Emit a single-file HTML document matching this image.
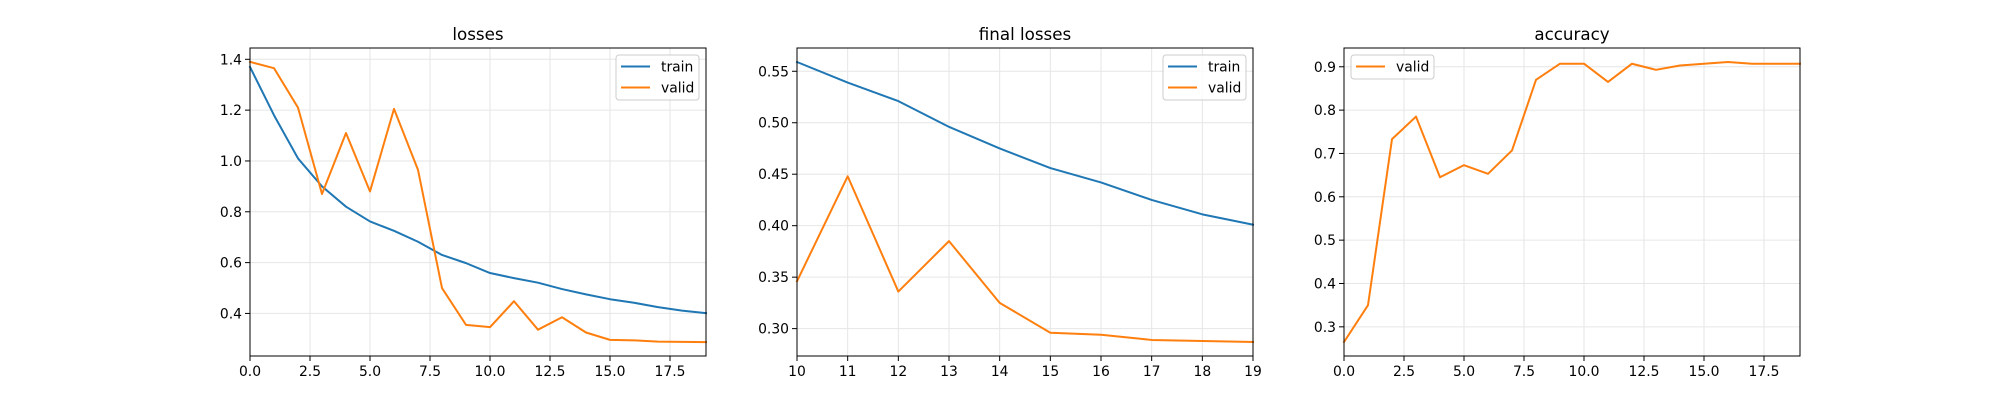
<!DOCTYPE html>
<html><head><meta charset="utf-8"><style>
html,body{margin:0;padding:0;background:#fff;}
svg{display:block;font-family:"DejaVu Sans","Liberation Sans",sans-serif;}
</style></head><body>
<svg id="fig" width="2000" height="400" viewBox="0 0 2000 400" xmlns="http://www.w3.org/2000/svg"></svg>
<script>
const epochs = [0,1,2,3,4,5,6,7,8,9,10,11,12,13,14,15,16,17,18,19];
const trainLoss = [1.37,1.18,1.01,0.90,0.82,0.762,0.725,0.682,0.63,0.598,0.559,0.539,0.521,0.496,0.475,0.456,0.442,0.425,0.411,0.401];
const validLoss = [1.39,1.365,1.21,0.87,1.11,0.88,1.205,0.965,0.50,0.355,0.346,0.448,0.336,0.385,0.325,0.296,0.294,0.289,0.288,0.287];
const validAcc = [0.265,0.35,0.733,0.785,0.645,0.673,0.653,0.707,0.87,0.907,0.907,0.865,0.907,0.893,0.903,0.907,0.911,0.907,0.907,0.907];
const ticks1X = [0,2.5,5,7.5,10,12.5,15,17.5];
const ticks1Y = [0.4,0.6,0.8,1.0,1.2,1.4];
const ticks2X = [10,11,12,13,14,15,16,17,18,19];
const ticks2Y = [0.30,0.35,0.40,0.45,0.50,0.55];
const ticks3Y = [0.3,0.4,0.5,0.6,0.7,0.8,0.9];
const finalStart = 10;

const NS="http://www.w3.org/2000/svg";
const svg=document.getElementById('fig');
function el(tag,attrs,parent){const e=document.createElementNS(NS,tag);for(const k in attrs)e.setAttribute(k,attrs[k]);(parent||svg).appendChild(e);return e;}
const BLUE="#1f77b4",ORANGE="#ff7f0e";
const TOP=48,BOT=356;

function fmt(v,dec){return v.toFixed(dec);}

function panel(opts){
  const g=el('g',{});
  
  
  const L=opts.x0,R=opts.x1;
  const sx=v=>L+(v-opts.xmin)/(opts.xmax-opts.xmin)*(R-L);
  const sy=v=>BOT-(v-opts.ymin)/(opts.ymax-opts.ymin)*(BOT-TOP);
  // grid
  opts.xt.forEach(t=>{const l=el('line',{x1:sx(t),x2:sx(t),y1:TOP,y2:BOT,stroke:'#e6e6e6','stroke-width':1},g);
    });
  opts.yt.forEach(t=>{const l=el('line',{x1:L,x2:R,y1:sy(t),y2:sy(t),stroke:'#e6e6e6','stroke-width':1},g);
    });
  // series
  opts.series.forEach(s=>{
    const pts=s.ys.map((y,i)=>sx(s.xs[i]).toFixed(2)+','+sy(y).toFixed(2)).join(' ');
    const p=el('polyline',{points:pts,fill:'none',stroke:s.color,'stroke-width':2,'stroke-linejoin':'round','stroke-linecap':'square'},g);
    
    
  });
  // frame
  const fr=el('rect',{x:L,y:TOP,width:R-L,height:BOT-TOP,fill:'none',stroke:'#000','stroke-width':1},g);
  
  // ticks
  opts.xt.forEach(t=>{
    el('line',{x1:sx(t),x2:sx(t),y1:BOT,y2:BOT+5,stroke:'#000','stroke-width':1},g);
    const tx=el('text',{x:sx(t),y:BOT+20,'font-size':13.9,'text-anchor':'middle',fill:'#000'},g);
    tx.textContent=opts.xfmt(t);
    
  });
  opts.yt.forEach(t=>{
    el('line',{x1:L-5,x2:L,y1:sy(t),y2:sy(t),stroke:'#000','stroke-width':1},g);
    const tx=el('text',{x:L-8,y:sy(t)+5,'font-size':13.9,'text-anchor':'end',fill:'#000'},g);
    tx.textContent=opts.yfmt(t);
    
  });
  const ti=el('text',{x:(L+R)/2,y:TOP-8,'font-size':16.7,'text-anchor':'middle',fill:'#000'},g);
  ti.textContent=opts.title;
  
  // legend
  const n=opts.series.length;
  const w=opts.legW,h=n===2?45:24;
  const lx=opts.legLeft?L+7:R-7-w, ly=TOP+7;
  const lg=el('g',{},g);
  
  el('rect',{x:lx,y:ly,width:w,height:h,rx:3,fill:'#fff','fill-opacity':0.8,stroke:'#ccc','stroke-width':1},lg);
  opts.series.forEach((s,i)=>{
    const yy=ly+11.5+i*21;
    const e=el('g',{},lg);
    
    el('line',{x1:lx+5,x2:lx+34,y1:yy,y2:yy,stroke:s.color,'stroke-width':2},e);
    const t=el('text',{x:lx+45,y:yy+5,'font-size':13.9,fill:'#000'},e);
    t.textContent=s.label;
  });
}

const finalX=epochs.slice(finalStart);
panel({name:'losses-chart',x0:250,x1:706,xmin:0,xmax:19,ymin:0.2325,ymax:1.4445,title:'losses',
  xt:ticks1X,yt:ticks1Y,xfmt:t=>fmt(t,1),yfmt:t=>fmt(t,1),legW:83,
  series:[{name:'train-loss-line',label:'train',xs:epochs,ys:trainLoss,color:BLUE},
          {name:'valid-loss-line',label:'valid',xs:epochs,ys:validLoss,color:ORANGE}]});
panel({name:'final-losses-chart',x0:797,x1:1253,xmin:10,xmax:19,ymin:0.2734,ymax:0.5726,title:'final losses',
  xt:ticks2X,yt:ticks2Y,xfmt:t=>String(t),yfmt:t=>fmt(t,2),legW:83,
  series:[{name:'final-train-loss-line',label:'train',xs:finalX,ys:trainLoss.slice(finalStart),color:BLUE},
          {name:'final-valid-loss-line',label:'valid',xs:finalX,ys:validLoss.slice(finalStart),color:ORANGE}]});
panel({name:'accuracy-chart',x0:1344,x1:1800,xmin:0,xmax:19,ymin:0.2327,ymax:0.9433,title:'accuracy',
  xt:ticks1X,yt:ticks3Y,xfmt:t=>fmt(t,1),yfmt:t=>fmt(t,1),legW:83,legLeft:true,
  series:[{name:'valid-accuracy-line',label:'valid',xs:epochs,ys:validAcc,color:ORANGE}]});
</script>
</body></html>
